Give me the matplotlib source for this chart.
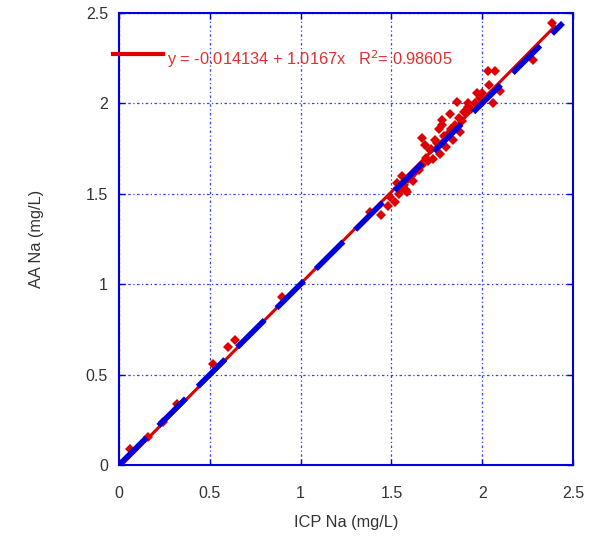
import numpy as np
import matplotlib
matplotlib.use('Agg')
import matplotlib.pyplot as plt

plt.rcParams['font.family'] = ['Liberation Sans', 'DejaVu Sans']

# Datos (ICP vs AA, Na en mg/L)
icp_na = [0.06, 0.16, 0.24, 0.32, 0.52, 0.60, 0.64, 0.90, 1.38, 1.44,
          1.48, 1.49, 1.52, 1.53, 1.54, 1.55, 1.56, 1.57, 1.58, 1.585,
          1.59, 1.61, 1.62, 1.63, 1.65, 1.67, 1.67, 1.685, 1.69, 1.70,
          1.71, 1.72, 1.73, 1.74, 1.75, 1.76, 1.77, 1.78, 1.78, 1.79,
          1.80, 1.81, 1.82, 1.83, 1.84, 1.85, 1.86, 1.87, 1.88, 1.89,
          1.90, 1.92, 1.92, 1.94, 1.96, 1.97, 1.99, 2.00, 2.03, 2.04,
          2.06, 2.07, 2.10, 2.28, 2.385]
aa_na = [0.09, 0.155, 0.24, 0.34, 0.56, 0.65, 0.69, 0.93, 1.40, 1.38,
         1.43, 1.48, 1.455, 1.56, 1.50, 1.52, 1.60, 1.55, 1.52, 1.51,
         1.58, 1.60, 1.57, 1.62, 1.63, 1.66, 1.81, 1.77, 1.70, 1.68,
         1.74, 1.75, 1.69, 1.80, 1.78, 1.86, 1.72, 1.91, 1.88, 1.82,
         1.76, 1.83, 1.94, 1.86, 1.80, 1.88, 2.01, 1.92, 1.84, 1.90,
         1.95, 1.98, 2.00, 1.97, 2.00, 2.06, 2.03, 2.06, 2.18, 2.10,
         2.00, 2.18, 2.07, 2.24, 2.445]

# Ajuste lineal mostrado en la leyenda
intercepto = -0.014134
pendiente = 1.0167
r2 = 0.98605

rojo = '#dd0000'
azul = '#0000dd'
gris = '#333333'

fig = plt.figure(figsize=(5.91, 5.50), dpi=100)
ax = fig.add_axes([0.2014, 0.1545, 0.7681, 0.8219])

ax.plot(icp_na, aa_na, 'D', color=rojo, markersize=5.2, markeredgewidth=0, zorder=3)

x_fit = np.array([0, 2.4])
ax.plot(x_fit, intercepto + pendiente * x_fit, color=rojo, lw=2.2, zorder=4)

x_11 = np.array([0, 2.445])
ax.plot(x_11, x_11, color=azul, lw=4, dashes=(7, 3), dash_capstyle='butt', zorder=5)

# Leyenda (línea roja + ecuación)
ax.plot([-0.035, 0.24], [2.275, 2.275], color=rojo, lw=3, clip_on=False, zorder=6)
ax.text(0.265, 2.245, f'y = {intercepto} + {pendiente}x   R$^2$= {r2}',
        color='#e03030', fontsize=11.8, va='center', ha='left', zorder=6)

ax.set_xlim(0, 2.5)
ax.set_ylim(0, 2.5)
ticks = [0, 0.5, 1, 1.5, 2, 2.5]
tick_labels = ['0', '0.5', '1', '1.5', '2', '2.5']
ax.set_xticks(ticks)
ax.set_xticklabels(tick_labels)
ax.set_yticks(ticks)
ax.set_yticklabels(tick_labels)
ax.grid(True, color='#3344ee', linestyle=(0, (2, 2, 1, 2)), lw=0.9)
ax.tick_params(direction='in', colors=azul, labelcolor=gris, labelsize=11.5,
               top=True, right=True, length=4, width=1)
ax.tick_params(axis='x', pad=15)
ax.tick_params(axis='y', pad=8)
for s in ax.spines.values():
    s.set_color(azul)
    s.set_linewidth(1.5)

ax.set_xlabel('ICP Na (mg/L)', color=gris, fontsize=11.8, labelpad=10)
ax.set_ylabel('AA Na (mg/L)', color=gris, fontsize=11.8, labelpad=30)

fig.savefig('out.png', dpi=100)
